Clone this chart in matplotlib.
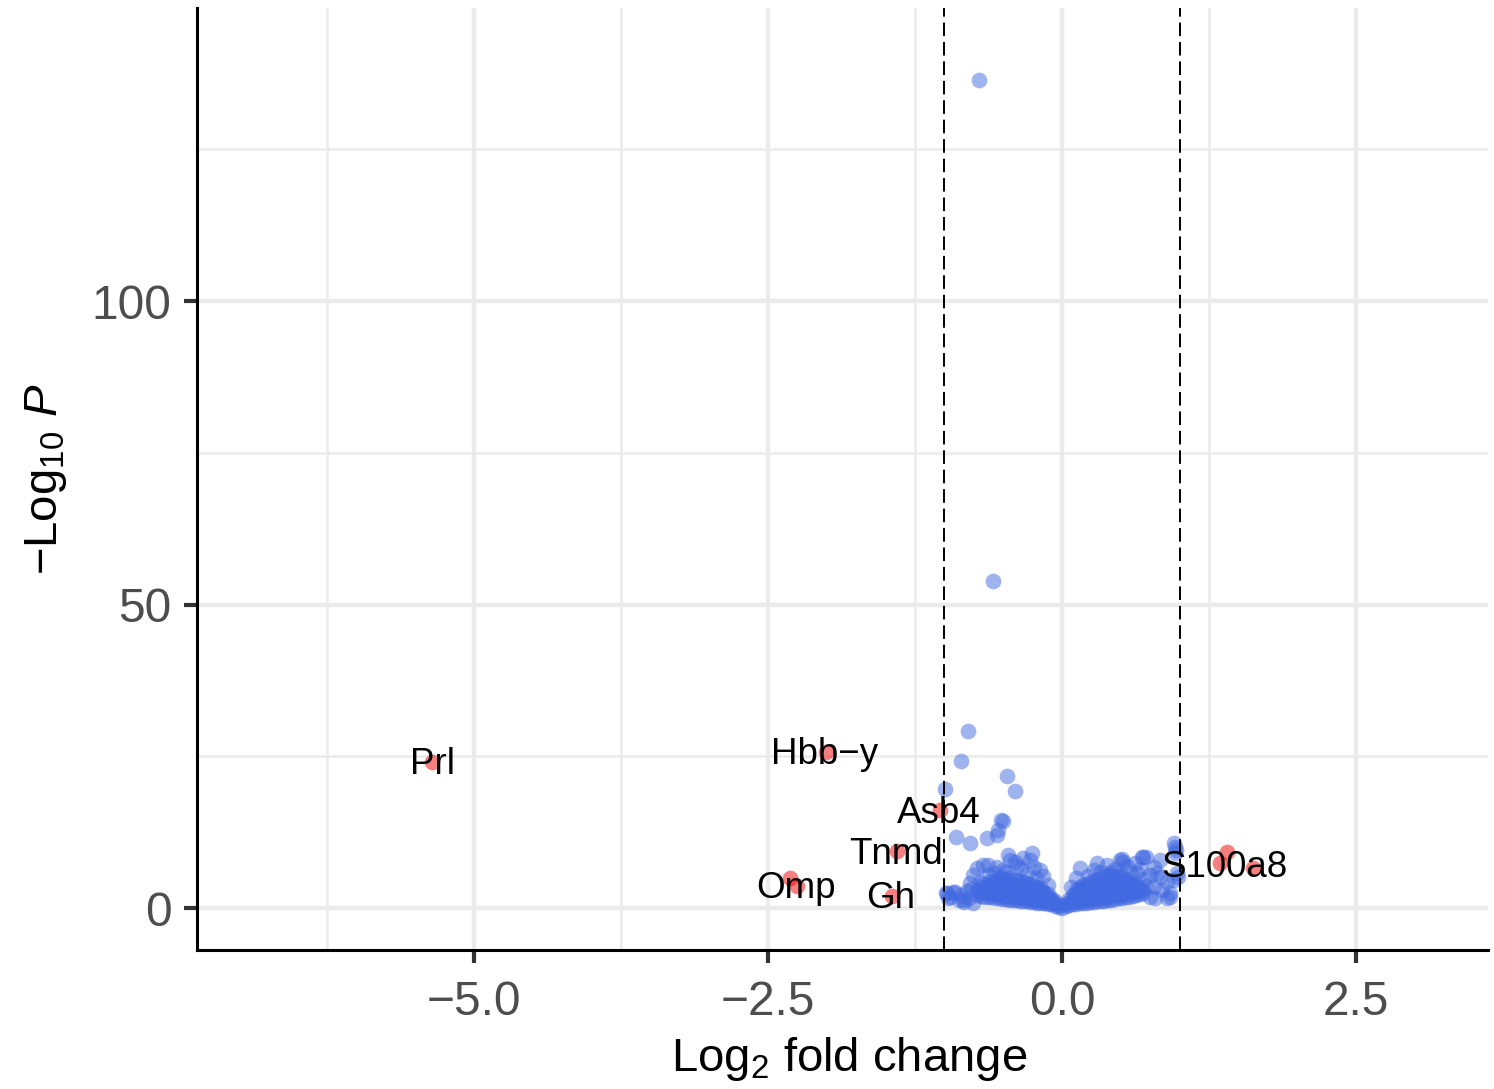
import numpy as np
import matplotlib
matplotlib.use("Agg")
import matplotlib.pyplot as plt
from matplotlib.ticker import FixedLocator

plt.rcParams['font.family'] = ['Liberation Sans', 'DejaVu Sans']
plt.rcParams['mathtext.fontset'] = 'custom'
plt.rcParams['mathtext.rm'] = 'Liberation Sans'
plt.rcParams['mathtext.it'] = 'Liberation Sans:italic'

# significant genes (red): log2FC, -log10 p
sig_x = [-5.357, -2.007, -1.037, -1.403, -2.313, -2.253, -1.446, 1.40, 1.34, 1.62]
sig_y = [24.05, 25.7, 16.1, 9.4, 4.9, 3.6, 2.0, 9.2, 7.4, 6.6]

# gene labels and where the text sits (centre x, baseline y)
lab_text = ['Prl', 'Hbb\u2212y', 'Asb4', 'Tnmd', 'Omp', 'Gh', 'S100a8']
lab_x = [-5.357, -2.02, -1.046, -1.41, -2.258, -1.458, 1.38]
lab_y = [22.1, 23.7, 14.0, 7.25, 1.65, 0.0, 5.1]

# p-value only genes (blue) that stand out from the cloud
out_x = [-0.706, -0.587, -0.80, -0.859, -0.468, -0.995, -0.40, -0.519, -0.50,
         -0.90, -0.78, -0.638, -0.553, -0.545, 0.97, 0.69, 0.51, 0.99, 0.92, -0.98,
         0.95, 0.96, 0.96]
out_y = [136.4, 53.9, 29.2, 24.2, 21.7, 19.6, 19.3, 14.5, 14.3,
         11.7, 10.7, 11.5, 12.0, 12.8, 9.6, 8.4, 8.1, 5.1, 1.8, 2.5,
         10.7, 10.0, 9.0]

# scattered points just above / around the dense cloud
mid_x = [-0.72, -0.67, -0.63, -0.76, -0.78, -0.70, -0.46, -0.44, -0.255, -0.27,
         -0.40, -0.19, -0.35, -0.50, -0.58, -0.30, -0.22,
         0.15, 0.27, 0.38, 0.49, 0.52, 0.68, 0.64, 0.75, 0.81, 0.78, 0.89,
         0.89, 0.79, 0.75, 0.98, 0.83, 0.71, 0.78, 0.83, 0.95, 0.22, 0.33,
         0.45, 0.58, 0.70, 0.85, 0.72, 0.92,
         -0.99, -0.95, -0.91, -0.88, -0.86, -0.84, -0.83, -0.81, -0.79, -0.77,
         -0.76, -0.93, -0.97,
         -0.62, -0.55, -0.48, -0.38, -0.33, -0.24, -0.16, -0.12, 0.08, 0.12,
         0.30, 0.42, 0.55, 0.62, 0.66]
mid_y = [6.6, 7.1, 7.1, 5.4, 4.1, 4.3, 8.7, 7.9, 9.0, 7.9,
         7.6, 6.3, 6.5, 6.2, 5.8, 5.6, 5.0,
         6.6, 6.3, 7.1, 7.9, 7.6, 8.4, 5.7, 5.4, 5.7, 3.5, 4.3,
         1.6, 1.6, 1.8, 5.7, 7.9, 8.4, 6.8, 5.1, 4.6, 5.2, 6.0,
         6.5, 6.0, 4.8, 3.0, 3.6, 2.5,
         2.4, 1.9, 2.6, 1.4, 2.2, 1.3, 1.0, 2.8, 1.7, 3.2,
         0.9, 2.7, 1.6,
         5.5, 6.8, 6.0, 7.0, 8.2, 6.8, 5.2, 3.8, 3.5, 5.0,
         7.5, 6.0, 7.0, 7.4, 6.5]

# dense cloud around zero, read column by column (x: list of y)
cloud = [
    (-0.72, [2.2, 2.9]),
    (-0.69, [2.0, 2.7, 3.4]),
    (-0.66, [1.9, 2.6, 3.3, 4.0]),
    (-0.63, [1.8, 2.5, 3.2, 3.9]),
    (-0.60, [1.8, 2.4, 3.1, 3.8, 4.5]),
    (-0.57, [1.7, 2.3, 3.0, 3.7, 4.4]),
    (-0.54, [1.6, 2.2, 2.9, 3.6, 4.3, 5.0]),
    (-0.51, [1.5, 2.1, 2.8, 3.5, 4.2, 4.9]),
    (-0.48, [1.5, 2.0, 2.7, 3.4, 4.1, 4.8]),
    (-0.45, [1.4, 2.0, 2.6, 3.3, 4.0, 4.9]),
    (-0.42, [1.3, 1.9, 2.6, 3.2, 3.9, 4.7]),
    (-0.39, [1.3, 1.8, 2.5, 3.1, 3.8, 4.6]),
    (-0.36, [1.2, 1.8, 2.4, 3.0, 3.7, 4.5]),
    (-0.33, [1.2, 1.7, 2.3, 2.9, 3.6, 4.3]),
    (-0.30, [1.1, 1.6, 2.2, 2.8, 3.5, 4.2]),
    (-0.27, [1.0, 1.5, 2.1, 2.7, 3.3, 4.0]),
    (-0.24, [1.0, 1.5, 2.0, 2.6, 3.2, 3.7]),
    (-0.21, [0.9, 1.4, 1.9, 2.5, 3.0, 3.5]),
    (-0.18, [0.9, 1.3, 1.8, 2.3, 2.8, 3.2]),
    (-0.15, [0.8, 1.2, 1.7, 2.1, 2.6]),
    (-0.12, [0.7, 1.1, 1.5, 1.9, 2.3]),
    (-0.09, [0.6, 0.9, 1.3, 1.7]),
    (-0.06, [0.4, 0.8, 1.1]),
    (-0.03, [0.2, 0.5]),
    (0.00, [0.05]),
    (0.03, [0.3, 0.7]),
    (0.06, [0.5, 1.0, 1.5]),
    (0.09, [0.6, 1.1, 1.6, 2.2]),
    (0.12, [0.7, 1.2, 1.8, 2.4, 2.9]),
    (0.15, [0.8, 1.3, 1.9, 2.5, 3.1, 3.4]),
    (0.18, [0.9, 1.4, 2.0, 2.6, 3.2, 3.8]),
    (0.21, [0.9, 1.5, 2.1, 2.7, 3.3, 4.0]),
    (0.24, [1.0, 1.6, 2.2, 2.8, 3.5, 4.3]),
    (0.27, [1.0, 1.6, 2.3, 2.9, 3.6, 4.5]),
    (0.30, [1.1, 1.7, 2.4, 3.1, 3.8, 4.8]),
    (0.33, [1.2, 1.8, 2.5, 3.2, 3.9, 5.0]),
    (0.36, [1.2, 1.9, 2.6, 3.3, 4.1, 5.2]),
    (0.39, [1.3, 2.0, 2.7, 3.4, 4.2, 5.4]),
    (0.42, [1.4, 2.0, 2.8, 3.5, 4.3, 5.5]),
    (0.45, [1.5, 2.1, 2.8, 3.6, 4.4, 5.4]),
    (0.48, [1.6, 2.2, 2.9, 3.7, 4.5, 5.3]),
    (0.51, [1.7, 2.3, 3.0, 3.8, 4.6, 5.2]),
    (0.54, [1.8, 2.4, 3.1, 3.9, 4.7]),
    (0.57, [1.9, 2.5, 3.2, 4.0, 4.6]),
    (0.60, [2.0, 2.6, 3.3, 4.0]),
    (0.63, [2.1, 2.8, 3.4, 4.1]),
    (0.66, [2.3, 2.9, 3.5]),
    (0.69, [2.4, 3.0]),
]

x_ticks = [-5.0, -2.5, 0.0, 2.5]
x_labels = ['\u22125.0', '\u22122.5', '0.0', '2.5']
y_ticks = [0, 50, 100]
y_labels = ['0', '50', '100']
fc_cut = 1.0

cloud_x = [cx for cx, ys in cloud for _ in ys]
cloud_y = [y for cx, ys in cloud for y in ys]

blue_x = np.array(cloud_x + mid_x + out_x)
blue_y = np.array(cloud_y + mid_y + out_y)

fig = plt.figure(figsize=(14.94, 10.89), dpi=100)
ax = fig.add_axes([0.1319, 0.1276, 0.8641, 0.8651])

ax.scatter(blue_x, blue_y, s=128, color='royalblue', alpha=0.5, linewidths=0, zorder=2)
ax.scatter(sig_x, sig_y, s=128, color='#EE0000', alpha=0.5, linewidths=0, zorder=2)

ax.axvline(-fc_cut, color='black', lw=1.4, dashes=(7, 3), zorder=3)
ax.axvline(fc_cut, color='black', lw=1.4, dashes=(7, 3), zorder=3)

for t, x, y in zip(lab_text, lab_x, lab_y):
    ax.text(x, y, t, fontsize=26.5, ha='center', va='baseline', color='black', zorder=4)

ax.set_xlim(-7.355, 3.622)
ax.set_ylim(-6.92, 148.3)

ax.set_xticks(x_ticks)
ax.set_xticklabels(x_labels)
ax.set_yticks(y_ticks)
ax.set_yticklabels(y_labels)
ax.xaxis.set_minor_locator(FixedLocator([-6.25, -3.75, -1.25, 1.25]))
ax.yaxis.set_minor_locator(FixedLocator([25, 75, 125]))

ax.grid(which='major', color='#EBEBEB', lw=3.2, zorder=0)
ax.grid(which='minor', color='#EBEBEB', lw=1.8, zorder=0)
ax.set_axisbelow(True)

ax.tick_params(which='major', length=9.5, width=3, color='#333333',
               labelsize=34.5, labelcolor='#4D4D4D', pad=9)
ax.tick_params(axis='x', which='major', pad=12)
ax.tick_params(which='minor', length=0)

for side in ['top', 'right']:
    ax.spines[side].set_visible(False)
for side in ['left', 'bottom']:
    ax.spines[side].set_linewidth(2.2)
    ax.spines[side].set_color('black')

ax.set_xlabel(r'$\mathrm{Log}_{2}$ fold change', fontsize=34, labelpad=8)
ax.xaxis.set_label_coords(0.505, -0.09)
ax.set_ylabel(r'$-\mathrm{Log}_{10}\ \mathit{P}$', fontsize=34, labelpad=16)

fig.savefig('out.png', dpi=100)
